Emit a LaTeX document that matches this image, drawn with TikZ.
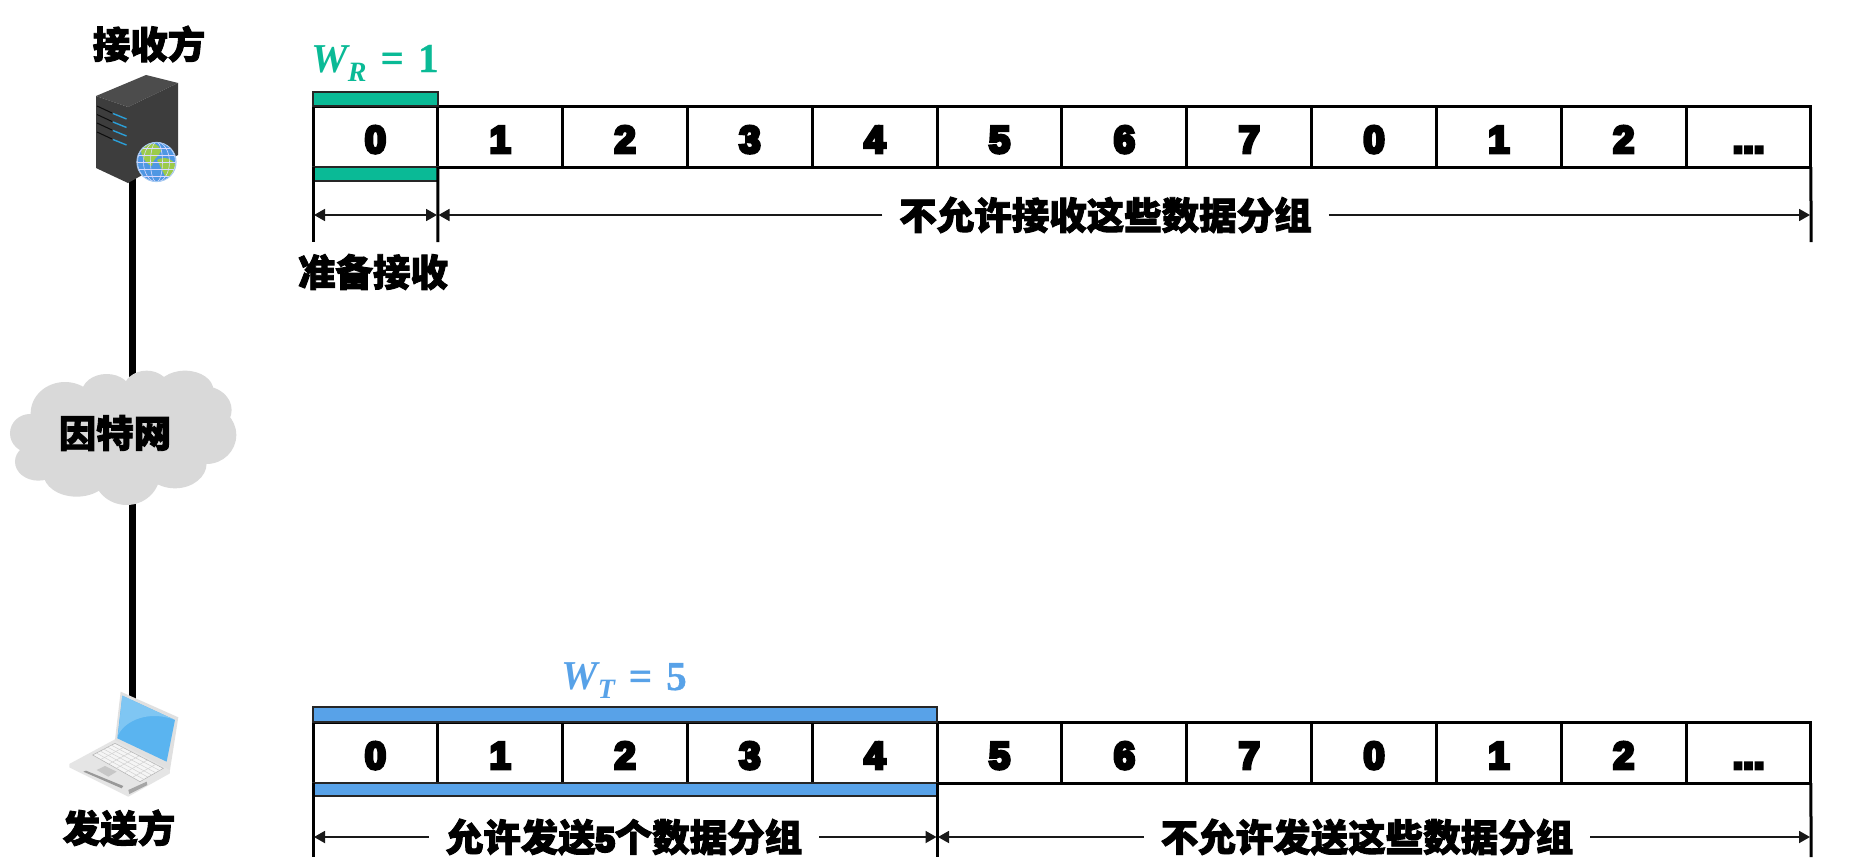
\documentclass[tikz,border=0pt]{standalone}
\usepackage{fontspec}
\usetikzlibrary{arrows.meta,calc}
\newfontfamily\cjk{Noto Sans CJK SC}[BoldFeatures={FakeBold=2.4}]
\newfontfamily\digitf{Liberation Sans}[BoldFeatures={FakeBold=9}]
\newfontfamily\mathf{Liberation Serif}[BoldFeatures={FakeBold=0.8}]
\definecolor{wgreen}{HTML}{0ABA96}
\definecolor{wblue}{HTML}{58A2E8}
\definecolor{cloudgray}{HTML}{D9D9D9}
\definecolor{globeblue}{HTML}{4F97E3}
\definecolor{globegreen}{HTML}{9CCB4A}
\definecolor{lapblue}{HTML}{5AB4F0}
\definecolor{lapsheen}{HTML}{7FC6F3}
\definecolor{srvblue}{HTML}{2B9FD8}
\tikzset{
  cellbox/.style={draw=black,line width=3pt,rectangle,outer sep=0pt,inner sep=0pt,minimum width=124.83pt,minimum height=61pt,
    text height=32.4pt,text depth=0pt,font=\digitf\bfseries\fontsize{38}{38}\selectfont},
  winbar/.style={line width=2pt,draw=black!85},
  tick/.style={line width=3pt,draw=black},
  dim/.style={line width=1.8pt,draw=black!90,{Triangle[length=11pt,width=12pt]}-{Triangle[length=11pt,width=12pt]}},
  dimr/.style={line width=1.8pt,draw=black!90,-{Triangle[length=11pt,width=12pt]}},
  lbl/.style={font=\cjk\bfseries\fontsize{37.5}{37.5}\selectfont,inner sep=0pt,outer sep=0pt,text=black},
  gaplbl/.style={lbl,inner xsep=17pt,inner ysep=0pt},
  wintext/.style={font=\mathf\bfseries\fontsize{41}{41}\selectfont,inner sep=0pt},
  link/.style={line width=7pt,draw=black},
}
\newcommand{\wlabel}[2]{{\itshape W}\raisebox{-9pt}{\fontsize{28}{28}\selectfont\itshape #1}\hspace{14pt}=\hspace{14pt}#2}
\newcommand{\celldots}{...}
\begin{document}
\begin{tikzpicture}[x=1pt,y=-1pt]
\useasboundingbox (0,0) rectangle (1858,867);
\fill[white] (0,0) rectangle (1858,867);

% connector between hosts
\coordinate (srv) at (132.5,175);
\coordinate (lap) at (132.5,700);
\draw[link] (srv) -- (lap);

% cloud
\begin{scope}[shift={(0,350)},x=0.3333pt,y=-0.3333pt]
\foreach \cx/\cy/\rx/\ry in {90/250/60/58,115/335/70/57,195/190/103/94,320/130/75/58,440/120/70/58,555/120/85/58,610/180/85/72,620/255/89/87,525/340/95/75,380/370/100/95,230/370/100/70,370/250/280/130}
  \fill[cloudgray] (\cx,\cy) ellipse [x radius=\rx*0.3333pt, y radius=\ry*0.3333pt];
\end{scope}
\node[lbl] (cloudlbl) at (115,433) {因特网};

% server
\fill[black!70] (96,96) -- (146,75) -- (178,83) -- (128,107) -- cycle;
\fill[black!76] (96,96) -- (128,107) -- (128,183) -- (96,168) -- cycle;
\fill[black!76] (128,107) -- (178,83) -- (178,155) -- (128,183) -- cycle;
\foreach \dy in {0,8.5,17,26}{
  \draw[black!95,line width=1pt] (97,106+\dy) -- (112,113+\dy);
  \draw[srvblue,line width=1.4pt] (113,113.5+\dy) -- (126.5,119+\dy);
}
% globe
\begin{scope}
\clip (156.5,162) circle (19.7);
\fill[globeblue] (156.5,162) circle (20);
\fill[globegreen] (141,147) .. controls (150,141) and (159,143) .. (161,151) .. controls (158,158) and (153,158) .. (152,166) .. controls (146,164) and (140,156) .. (141,147) -- cycle;
\fill[globegreen] (157,160) .. controls (165,155) and (177,160) .. (176,170) .. controls (173,175) and (169,177) .. (165,176) .. controls (162,170) and (160,165) .. (157,160) -- cycle;
\foreach \r in {6,13,19} \draw[white!85!blue,line width=0.6pt] (156.5,162) ellipse [x radius=\r, y radius=20];
\foreach \d in {-14,-7,0,7,14} \draw[white!85!blue,line width=0.6pt] (136,162+\d) -- (177,162+\d);
\end{scope}
\draw[globeblue!50,line width=0.8pt] (156.5,162) circle (19.7);

% laptop
\begin{scope}[shift={(0,660)},x=0.3333pt,y=-0.3333pt]
\fill[black!10] (345,238) -- (510,325) -- (510,340) -- (385,410) -- (208,322) -- (208,312) -- cycle;
\fill[black!4] (278,285) -- (345,250) -- (490,325) -- (420,365) -- cycle;
\draw[black!30,line width=0.5pt] (278,285) -- (345,250) -- (490,325) -- (420,365) -- cycle;
\foreach \t in {0.17,0.34,0.5,0.67,0.84}{
  \draw[black!18,line width=0.5pt] ($(278,285)!\t!(420,365)$) -- ($(345,250)!\t!(490,325)$);
  \draw[black!18,line width=0.5pt] ($(278,285)!\t!(345,250)$) -- ($(420,365)!\t!(490,325)$);
}
\fill[black!22] (290,330) -- (315,318) -- (350,335) -- (325,350) -- cycle;
\fill[black!40] (250,335) -- (258,332) -- (370,378) -- (365,385) -- cycle;
\fill[black!35] (385,390) -- (440,365) -- (442,375) -- (388,402) -- cycle;
\fill[black!12] (362,95) -- (535,172) -- (510,330) -- (345,240) -- cycle;
\fill[lapblue] (367,107) -- (525,180) -- (500,305) -- (352,235) -- cycle;
\fill[lapsheen] (367,107) -- (525,180) .. controls (450,150) and (375,180) .. (354,226) -- cycle;
\end{scope}

\node[lbl] (rxname) at (149,44) {接收方};
\node[lbl] (txname) at (119,828) {发送方};

% windows
\foreach \v [count=\i from 0] in {0,1,2,3,4,5,6,7,0,1,2,\celldots}{
  \node[cellbox] (a\i) at ({313+124.83*(\i+0.5)},136.5) {\v};
  \node[cellbox] (b\i) at ({313+124.83*(\i+0.5)},752.5) {\v};
}
\draw[winbar,fill=wgreen] (a0.north west) rectangle ++(124.83,-14);
\draw[winbar,fill=wgreen] (a0.south west) rectangle ++(124.83,14);
\draw[winbar,fill=wblue] (b0.north west) rectangle ($(b4.north east)+(0,-15)$);
\draw[winbar,fill=wblue] (b0.south west) rectangle ($(b4.south east)+(0,13)$);

\node[wintext,text=wgreen] (wr) at (375,63) {\wlabel{R}{1}};
\node[wintext,text=wblue] (wt) at (624,681) {\wlabel{T}{5}};

% dimension ticks
\coordinate (t1a) at (313,242);
\coordinate (t1b) at (437.83,242);
\coordinate (t1c) at (1811,242);
\draw[tick] (a0.south west) -- (t1a);
\draw[tick] (a0.south east) -- (t1b);
\draw[tick] (a11.south east) -- (t1c);
\coordinate (t2a) at (313,857);
\coordinate (t2b) at (937.15,857);
\coordinate (t2c) at (1811,857);
\draw[tick] (b0.south west) -- (t2a);
\draw[tick] (b4.south east) -- (t2b);
\draw[tick] (b11.south east) -- (t2c);

% dimension arrows
\coordinate (d1a) at (314,215);
\coordinate (d1b) at (437,215);
\coordinate (d1c) at (438.5,215);
\coordinate (d1d) at (1810,215);
\draw[dim] (d1a) -- (d1b);
\node[gaplbl] (lbl1) at (1105.5,215) {不允许接收这些数据分组};
\draw[dimr] (lbl1.west) -- (d1c);
\draw[dimr] (lbl1.east) -- (d1d);
\node[lbl] (lbl0) at (373,272) {准备接收};

\coordinate (d2a) at (314,837);
\coordinate (d2b) at (936.5,837);
\coordinate (d2c) at (938,837);
\coordinate (d2d) at (1810,837);
\node[gaplbl] (lbl2) at (624,837) {允许发送{\digitf\bfseries\fontsize{34}{34}\selectfont 5}个数据分组};
\node[gaplbl] (lbl3) at (1367,837) {不允许发送这些数据分组};
\draw[dimr] (lbl2.west) -- (d2a);
\draw[dimr] (lbl2.east) -- (d2b);
\draw[dimr] (lbl3.west) -- (d2c);
\draw[dimr] (lbl3.east) -- (d2d);
\end{tikzpicture}
\end{document}
